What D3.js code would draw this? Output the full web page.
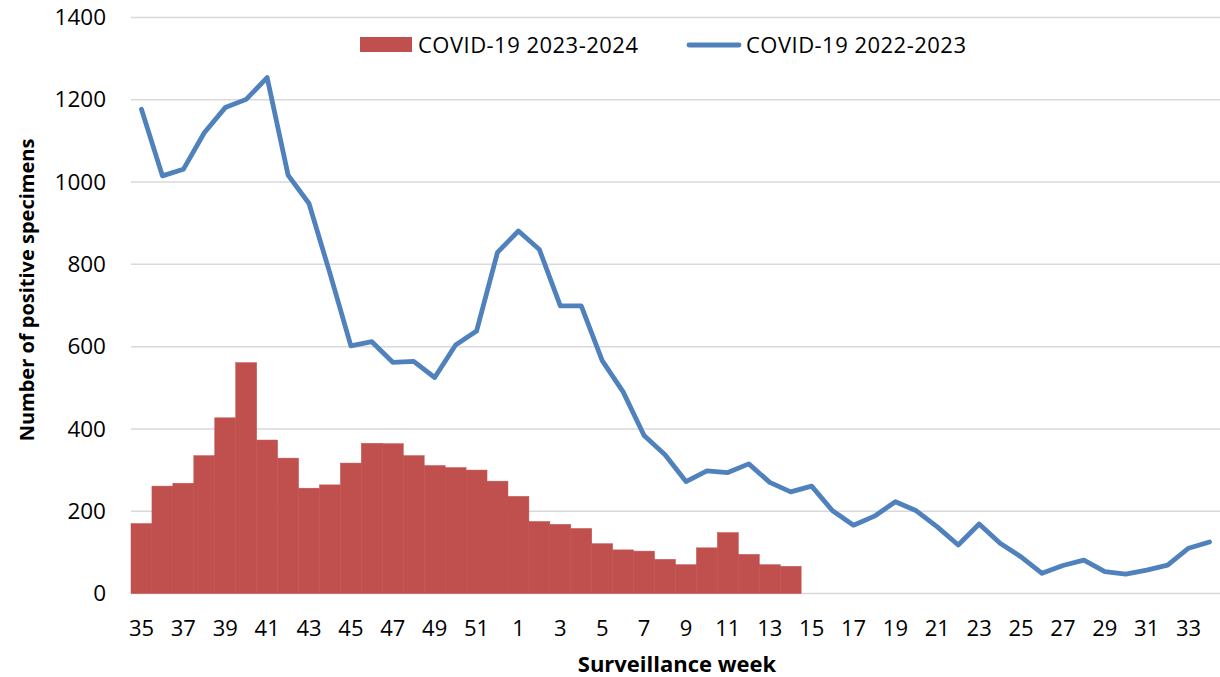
<!DOCTYPE html>
<html>
<head>
<meta charset="utf-8">
<script src="https://cdn.jsdelivr.net/npm/d3@7"></script>
<style>
  body { margin: 0; background: #fff; }
  text { font-family: "Open Sans", sans-serif; fill: #000; }
</style>
</head>
<body>
<svg id="chart" width="1220" height="677"></svg>
<script>
// surveillance weeks 35..52 then 1..34
const weeks = [35, 36, 37, 38, 39, 40, 41, 42, 43, 44, 45, 46, 47, 48, 49, 50, 51, 52,
    1, 2, 3, 4, 5, 6, 7, 8, 9, 10, 11, 12, 13, 14, 15, 16, 17, 18, 19, 20, 21, 22, 23,
    24, 25, 26, 27, 28, 29, 30, 31, 32, 33, 34];

// COVID-19 2023-2024 (bars, weeks 35..14)
const season2324 = [170, 261, 268, 335, 427, 561, 373, 329, 256, 264, 317, 365, 364, 335, 311, 306, 300, 273,
    236, 175, 168, 158, 121, 106, 103, 83, 70, 111, 148, 95, 70, 66];

// COVID-19 2022-2023 (line, weeks 35..34)
const season2223 = [1177, 1015, 1031, 1120, 1181, 1201, 1254, 1017, 948, 778, 602, 612, 562, 564, 525, 604, 638, 829,
    881, 836, 699, 699, 566, 490, 384, 337, 272, 298, 294, 315, 270, 247, 261, 201, 166, 188, 223, 201,
    162, 118, 169, 122, 89, 49, 68, 81, 53, 47, 57, 69, 110, 125];

const yTicks = [0, 200, 400, 600, 800, 1000, 1200, 1400];

const margin = {top: 17.5, right: 0, bottom: 83.5, left: 131};
const width = 1220 - margin.left - margin.right,
    height = 677 - margin.top - margin.bottom;

let svg = d3.select("#chart");
let g = svg.append("g").attr("transform", "translate(" + margin.left + "," + margin.top + ")");

let x = d3.scaleBand()
    .domain(d3.range(weeks.length))
    .range([0, width])
    .padding(0);

let y = d3.scaleLinear()
    .domain([0, 1400])
    .range([height, 0]);

// gridlines
g.append("g")
    .selectAll("line")
    .data(yTicks)
    .join("line")
    .attr("x1", 0)
    .attr("x2", width)
    .attr("y1", d => y(d))
    .attr("y2", d => y(d))
    .attr("stroke", "#d9d9d9")
    .attr("stroke-width", 1.5);

// y axis labels
let yAxis = g.append("g")
    .call(d3.axisLeft(y).tickValues(yTicks).tickFormat(d3.format("d")).tickSize(0).tickPadding(25));
yAxis.select(".domain").remove();
yAxis.selectAll("text")
    .style("font-size", "22.5px")
    .attr("fill", "#000");

// x axis labels, every other week
let xAxis = g.append("g")
    .attr("transform", "translate(0," + height + ")")
    .call(d3.axisBottom(x)
        .tickValues(d3.range(0, weeks.length, 2))
        .tickFormat(i => weeks[i])
        .tickSize(0)
        .tickPadding(27));
xAxis.select(".domain").remove();
xAxis.selectAll("text")
    .style("font-size", "22px")
    .attr("fill", "#000");

// bars
g.append("g")
    .selectAll("rect")
    .data(season2324)
    .join("rect")
    .attr("x", (d, i) => x(i))
    .attr("width", x.bandwidth())
    .attr("y", d => y(d))
    .attr("height", d => height - y(d))
    .attr("fill", "#c0504d")
    .attr("stroke", "#c0504d")
    .attr("stroke-width", 0.5);

// line
let line = d3.line()
    .x((d, i) => x(i) + x.bandwidth() / 2)
    .y(d => y(d));

g.append("path")
    .datum(season2223)
    .attr("fill", "none")
    .attr("stroke", "#4f81bd")
    .attr("stroke-width", 4.8)
    .attr("stroke-linejoin", "round")
    .attr("stroke-linecap", "round")
    .attr("d", line);

// legend
let legend = svg.append("g");
legend.append("rect")
    .attr("x", 360).attr("y", 37)
    .attr("width", 52).attr("height", 15)
    .attr("fill", "#c0504d");
legend.append("text")
    .attr("x", 418).attr("y", 53)
    .style("font-size", "22px")
    .attr("textLength", 220)
    .text("COVID-19 2023-2024");
legend.append("line")
    .attr("x1", 689).attr("x2", 739)
    .attr("y1", 45).attr("y2", 45)
    .attr("stroke", "#4f81bd")
    .attr("stroke-width", 4.8)
    .attr("stroke-linecap", "round");
legend.append("text")
    .attr("x", 746).attr("y", 53)
    .style("font-size", "22px")
    .attr("textLength", 220)
    .text("COVID-19 2022-2023");

// axis titles
svg.append("text")
    .attr("x", 677).attr("y", 672)
    .attr("text-anchor", "middle")
    .style("font-size", "22px")
    .style("font-weight", "bold")
    .text("Surveillance week");

svg.append("text")
    .attr("transform", "translate(34,290) rotate(-90)")
    .attr("text-anchor", "middle")
    .style("font-size", "20px")
    .style("font-weight", "bold")
    .text("Number of positive specimens");
</script>
</body>
</html>
